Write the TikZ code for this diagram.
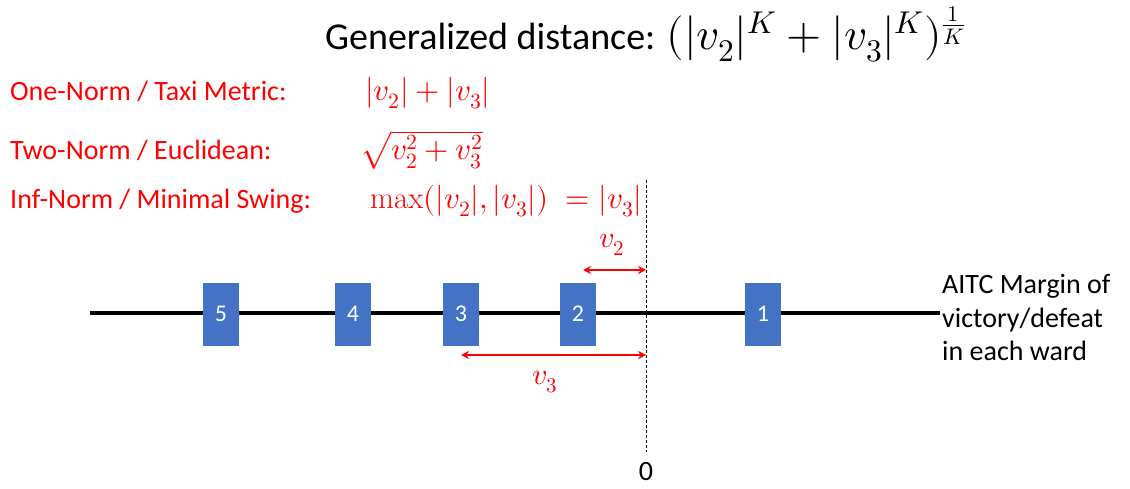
\documentclass[tikz,border=0pt]{standalone}
\usepackage{fontspec}
\usepackage{unicode-math}
\setmainfont{Carlito}
\setmathfont{Latin Modern Math}
\newfontfamily\lmrfamily{Latin Modern Roman}
\usetikzlibrary{arrows.meta}
\definecolor{boxblue}{HTML}{4472C4}
\definecolor{redtxt}{HTML}{FF0000}
\newcommand{\opmax}{\mathop{\hbox{\lmrfamily max}}\nolimits}
\begin{document}
\begin{tikzpicture}[x=1pt,y=-1pt,
  ward/.style={fill=boxblue, draw=boxblue, minimum width=35pt, minimum height=62pt, inner sep=0pt, text=white, font=\fontsize{24}{28}\selectfont},
  redlab/.style={anchor=base west, inner sep=0pt, text=redtxt, font=\fontsize{28}{33}\selectfont},
  redmath/.style={anchor=base west, inner sep=0pt, text=redtxt, font=\fontsize{31}{36}\selectfont},
  blacklab/.style={anchor=base west, inner sep=0pt, text=black, font=\fontsize{28}{33}\selectfont},
  dimarrow/.style={draw=redtxt, line width=1.5pt, {Stealth[length=8pt,width=8pt]}-{Stealth[length=8pt,width=8pt]}},
  dimlab/.style={text=redtxt, inner sep=0pt, font=\fontsize{30}{34}\selectfont}]
\useasboundingbox (0,0) rectangle (1130,489);
% title
\node[blacklab, font=\fontsize{38}{44}\selectfont] (title) at (325,50) {Generalized distance: {\fontsize{45}{50}\selectfont$(|v_2|^K+|v_3|^K)^{\frac{1}{K}}$}};
% norms
\node[redlab] (l1) at (10,101) {One-Norm / Taxi Metric:};
\node[redlab] (l2) at (10,160) {Two-Norm / Euclidean:};
\node[redlab] (l3) at (10,209) {Inf-Norm / Minimal Swing:};
\node[redmath] (m1) at (365,101) {$|v_2|+|v_3|$};
\node[redmath] (m2) at (360,160) {$\sqrt{v_2^2+v_3^2}$};
\node[redmath] (m3) at (370,209) {$\opmax(|v_2|,|v_3|)\;=|v_3|$};
% axis
\coordinate (axl) at (90,313);
\coordinate (axr) at (940,313);
\draw[line width=4.5pt] (axl) -- (axr);
% zero line
\coordinate (zt) at (646,180);
\coordinate (zb) at (646,452);
\draw[line width=0.8pt, dash pattern=on 3pt off 2pt] (zt) -- (zb);
\node[inner sep=0pt, font=\fontsize{28}{32}\selectfont] (zero) at (646,472) {0};
% wards
\node[ward] (w5) at (221,314) {5};
\node[ward] (w4) at (353,314) {4};
\node[ward] (w3) at (461,314) {3};
\node[ward] (w2) at (578,314) {2};
\node[ward] (w1) at (763,314) {1};
% distances
\coordinate (v2a) at (583,270);
\coordinate (v2b) at (646,270);
\coordinate (v3a) at (461,355);
\coordinate (v3b) at (646,355);
\draw[dimarrow] (v2a) -- (v2b);
\draw[dimarrow] (v3a) -- (v3b);
\node[dimlab] (v2l) at (612,245) {$v_2$};
\node[dimlab] (v3l) at (545,382) {$v_3$};
% right label
\node[blacklab] (r1) at (942,294) {AITC Margin of};
\node[blacklab] (r2) at (942,327) {victory/defeat};
\node[blacklab] (r3) at (942,360) {in each ward};
\end{tikzpicture}
\end{document}
